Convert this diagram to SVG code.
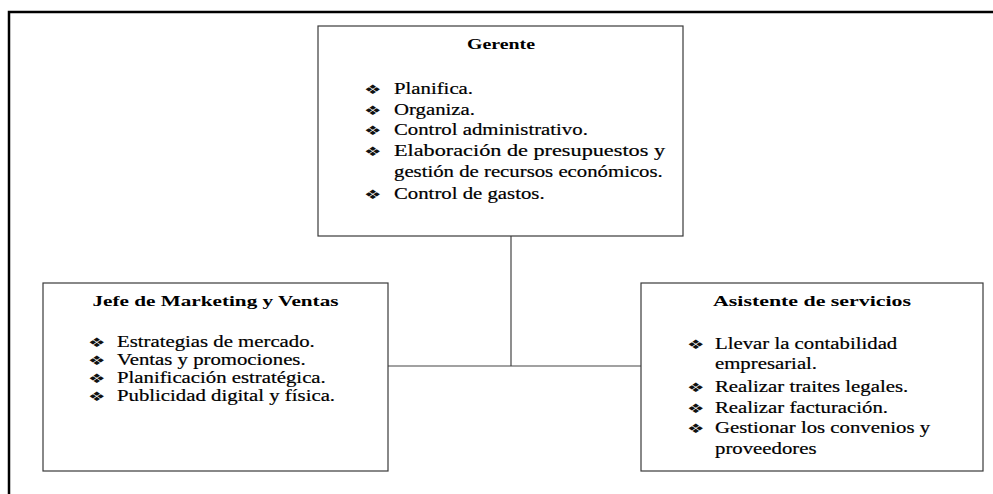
<svg xmlns="http://www.w3.org/2000/svg" width="993" height="494" viewBox="0 0 993 494">
<style>
.frame{fill:none;stroke:#000;stroke-width:2.5}
.box{fill:#fff;stroke:#3a3a3a;stroke-width:1.2}
.conn{fill:none;stroke:#444;stroke-width:1.2}
.t{font-family:"Liberation Serif","Times New Roman",serif;font-weight:bold;font-size:15.5px;fill:#000}
.b{font-family:"Liberation Serif","Times New Roman",serif;font-size:16.5px;fill:#000;stroke:#000;stroke-width:0.2}
.bu{font-family:"DejaVu Sans",sans-serif;font-size:13px;fill:#111}
</style>
<rect width="993" height="494" fill="#fff"/>
<path class="frame" d="M9,494 V12 H993"/>
<g id="connectors">
<path class="conn" d="M511,236 V366"/>
<path class="conn" d="M388,366 H641"/>
</g>
<g id="gerente">
<rect class="box" x="318" y="26" width="365" height="210"/>
<text class="t" x="501" y="49" text-anchor="middle" textLength="68" lengthAdjust="spacingAndGlyphs">Gerente</text>
<text class="bu" transform="translate(364,94) scale(1.5,1)">❖</text>
<text class="b" transform="translate(394,94) scale(1.26,1)">Planifica.</text>
<text class="bu" transform="translate(364,115) scale(1.5,1)">❖</text>
<text class="b" transform="translate(394,115) scale(1.26,1)">Organiza.</text>
<text class="bu" transform="translate(364,135) scale(1.5,1)">❖</text>
<text class="b" transform="translate(394,135) scale(1.26,1)">Control administrativo.</text>
<text class="bu" transform="translate(364,156) scale(1.5,1)">❖</text>
<text class="b" x="0" transform="translate(394,156)" textLength="271" lengthAdjust="spacingAndGlyphs">Elaboración de presupuestos y</text>
<text class="b" transform="translate(394,177) scale(1.26,1)">gestión de recursos económicos.</text>
<text class="bu" transform="translate(364,199) scale(1.5,1)">❖</text>
<text class="b" transform="translate(394,199) scale(1.26,1)">Control de gastos.</text>
</g>
<g id="jefe">
<rect class="box" x="43" y="283" width="345" height="188"/>
<text class="t" x="215.5" y="306" text-anchor="middle" textLength="246" lengthAdjust="spacingAndGlyphs">Jefe de Marketing y Ventas</text>
<text class="bu" transform="translate(88,347) scale(1.5,1)">❖</text>
<text class="b" transform="translate(117,347) scale(1.26,1)">Estrategias de mercado.</text>
<text class="bu" transform="translate(88,365) scale(1.5,1)">❖</text>
<text class="b" transform="translate(117,365) scale(1.26,1)">Ventas y promociones.</text>
<text class="bu" transform="translate(88,383) scale(1.5,1)">❖</text>
<text class="b" transform="translate(117,383) scale(1.26,1)">Planificación estratégica.</text>
<text class="bu" transform="translate(88,401) scale(1.5,1)">❖</text>
<text class="b" transform="translate(117,401) scale(1.26,1)">Publicidad digital y física.</text>
</g>
<g id="asistente">
<rect class="box" x="641" y="283" width="342" height="188"/>
<text class="t" x="812" y="306" text-anchor="middle" textLength="198" lengthAdjust="spacingAndGlyphs">Asistente de servicios</text>
<text class="bu" transform="translate(687,349) scale(1.5,1)">❖</text>
<text class="b" transform="translate(715,349) scale(1.26,1)">Llevar la contabilidad</text>
<text class="b" transform="translate(715,369) scale(1.26,1)">empresarial.</text>
<text class="bu" transform="translate(687,392) scale(1.5,1)">❖</text>
<text class="b" transform="translate(715,392) scale(1.26,1)">Realizar traites legales.</text>
<text class="bu" transform="translate(687,413) scale(1.5,1)">❖</text>
<text class="b" transform="translate(715,413) scale(1.26,1)">Realizar facturación.</text>
<text class="bu" transform="translate(687,433) scale(1.5,1)">❖</text>
<text class="b" transform="translate(715,433) scale(1.26,1)">Gestionar los convenios y</text>
<text class="b" transform="translate(715,454) scale(1.26,1)">proveedores</text>
</g>
</svg>
